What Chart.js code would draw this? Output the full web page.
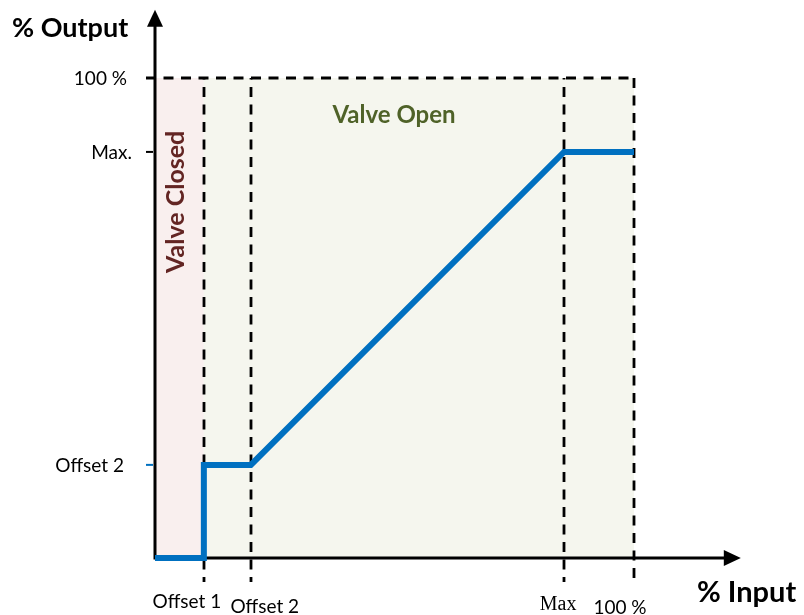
<!DOCTYPE html>
<html lang="en">
<head>
    <meta charset="UTF-8">
    <title>Valve Output Curve</title>
    <script src="https://cdn.jsdelivr.net/npm/chart.js@4.4.1/dist/chart.umd.min.js"></script>
    <style>
        html, body {
            margin: 0;
            padding: 0;
            background: #ffffff;
        }

        .canvas-container {
            position: relative;
            width: 804px;
            height: 615px;
        }
    </style>
</head>
<body>
    <div class="canvas-container">
        <canvas id="valveChart"></canvas>
    </div>

    <script>
        // Characteristic curve: % input -> % output
        const inputPoints = [0, 10.2, 10.2, 20, 85.4, 100];
        const outputPoints = [0, 0, 19.4, 19.4, 84.6, 84.6];

        // Tick labels
        const xTickValues = [10.2, 20, 85.4, 100];
        const xTickLabels = ['Offset 1', 'Offset 2', 'Max', '100 %'];
        const yTickValues = [100, 84.6, 19.4];
        const yTickLabels = ['100 %', 'Max.', 'Offset 2'];

        // Shaded regions (input ranges)
        const closedRange = [0, 10.2];
        const openRange = [10.2, 100];

        const FONT = "Lato, 'Open Sans', sans-serif";

        // label nudges so they sit like the original drawing
        const xLabelShift = [[-17, 44], [14, 49], [-6, 47], [-14, 50]];
        const yLabelShift = [0, 5, -3];
        const yTickColors = ['#000000', '#000000', '#0070c0'];

        const decorPlugin = {
            id: 'decor',
            beforeDatasetsDraw(chart) {
                const ctx = chart.ctx;
                const xs = chart.scales.x;
                const ys = chart.scales.y;
                const x0 = xs.getPixelForValue(0);
                const y0 = ys.getPixelForValue(0);
                const yTop = ys.getPixelForValue(100);
                const xEnd = xs.getPixelForValue(122.3);
                const yEnd = ys.getPixelForValue(114.2);

                ctx.save();

                // background regions
                ctx.fillStyle = '#f9efee';
                ctx.fillRect(xs.getPixelForValue(closedRange[0]), yTop,
                    xs.getPixelForValue(closedRange[1]) - xs.getPixelForValue(closedRange[0]), y0 - yTop);
                ctx.fillStyle = '#f5f6ee';
                ctx.fillRect(xs.getPixelForValue(openRange[0]), yTop,
                    xs.getPixelForValue(openRange[1]) - xs.getPixelForValue(openRange[0]), y0 - yTop);

                // dashed guide lines
                ctx.strokeStyle = '#000000';
                ctx.lineWidth = 2.8;
                ctx.setLineDash([10, 7.5]);
                ctx.beginPath();
                ctx.moveTo(x0 - 9, yTop);
                ctx.lineTo(xs.getPixelForValue(100), yTop);
                ctx.stroke();
                xTickValues.forEach(v => {
                    const px = Math.round(xs.getPixelForValue(v));
                    ctx.beginPath();
                    ctx.lineDashOffset = v === 100 ? 0 : -9;
                    ctx.moveTo(px, yTop);
                    ctx.lineTo(px, y0 + 24);
                    ctx.stroke();
                });
                ctx.setLineDash([]);
                ctx.lineDashOffset = 0;

                // axes
                ctx.lineWidth = 3;
                ctx.beginPath();
                ctx.moveTo(x0, y0 + 1.5);
                ctx.lineTo(x0, yEnd + 14);
                ctx.moveTo(x0 - 1.5, y0);
                ctx.lineTo(xEnd - 14, y0);
                ctx.stroke();
                ctx.fillStyle = '#000000';
                ctx.beginPath();
                ctx.moveTo(x0, yEnd);
                ctx.lineTo(x0 - 8, yEnd + 17);
                ctx.lineTo(x0 + 8, yEnd + 17);
                ctx.closePath();
                ctx.fill();
                ctx.beginPath();
                ctx.moveTo(xEnd, y0);
                ctx.lineTo(xEnd - 17, y0 - 8);
                ctx.lineTo(xEnd - 17, y0 + 8);
                ctx.closePath();
                ctx.fill();

                // y tick marks and labels
                ctx.font = '19px ' + FONT;
                ctx.textAlign = 'right';
                ctx.textBaseline = 'middle';
                yTickValues.forEach((v, i) => {
                    const py = ys.getPixelForValue(v);
                    if (v !== 100) {
                        ctx.strokeStyle = yTickColors[i];
                        ctx.lineWidth = 2;
                        ctx.beginPath();
                        ctx.moveTo(x0 - 9, py);
                        ctx.lineTo(x0 - 2, py);
                        ctx.stroke();
                    }
                    ctx.fillStyle = '#000000';
                    ctx.fillText(yTickLabels[i], x0 - 28 + yLabelShift[i], py + 1);
                });

                // x tick labels
                ctx.textAlign = 'center';
                xTickValues.forEach((v, i) => {
                    const px = xs.getPixelForValue(v);
                    ctx.font = xTickLabels[i] === 'Max'
                        ? "20px 'Liberation Serif', serif"
                        : '19px ' + FONT;
                    ctx.fillText(xTickLabels[i], px + xLabelShift[i][0], y0 + xLabelShift[i][1]);
                });

                // axis titles
                ctx.textAlign = 'left';
                ctx.font = 'bold 27px ' + FONT;
                ctx.fillText('% Output', 12, 28);
                ctx.font = 'bold 29px ' + FONT;
                ctx.fillText('% Input', 697, y0 + 35);

                // region captions
                ctx.textBaseline = 'alphabetic';
                ctx.textAlign = 'center';
                ctx.font = 'bold 24px ' + FONT;
                ctx.fillStyle = '#4f6228';
                ctx.fillText('Valve Open', xs.getPixelForValue(49.9), ys.getPixelForValue(90.6));
                ctx.save();
                ctx.translate(xs.getPixelForValue(6.05), ys.getPixelForValue(74.2));
                ctx.rotate(-Math.PI / 2);
                ctx.font = 'bold 25px ' + FONT;
                ctx.fillStyle = '#632523';
                ctx.fillText('Valve Closed', 0, 0);
                ctx.restore();

                ctx.restore();
            }
        };

        const ctx = document.getElementById('valveChart').getContext('2d');
        new Chart(ctx, {
            type: 'line',
            data: {
                datasets: [{
                    label: 'Output',
                    data: inputPoints.map((x, i) => ({ x: x, y: outputPoints[i] })),
                    borderColor: '#0070c0',
                    borderWidth: 6,
                    borderJoinStyle: 'miter',
                    pointRadius: 0,
                    tension: 0,
                    fill: false,
                    clip: false
                }]
            },
            options: {
                responsive: true,
                maintainAspectRatio: false,
                animation: false,
                layout: {
                    padding: { left: 155, right: 170, top: 78, bottom: 57 }
                },
                plugins: {
                    legend: { display: false },
                    tooltip: { enabled: false }
                },
                scales: {
                    x: { type: 'linear', min: 0, max: 100, display: false },
                    y: { type: 'linear', min: 0, max: 100, display: false }
                }
            },
            plugins: [decorPlugin]
        });
    </script>
</body>
</html>
